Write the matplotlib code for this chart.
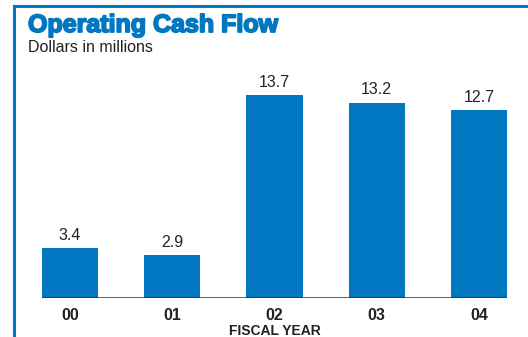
import matplotlib
matplotlib.use("Agg")
import matplotlib.pyplot as plt
from matplotlib.lines import Line2D
import matplotlib.patheffects as pe

years = ["00", "01", "02", "03", "04"]
cash_flow = [3.4, 2.9, 13.7, 13.2, 12.7]

BLUE = "#0077c0"
plt.rcParams["font.family"] = ["Liberation Sans", "DejaVu Sans"]

W, H = 528, 337
fig = plt.figure(figsize=(W / 100, H / 100), dpi=100)

# plot area in pixel terms: x 42..507, baseline at y=298
left, right, base, top = 42, 507, 298, 70
ax = fig.add_axes([left / W, 1 - base / H, (right - left) / W, (base - top) / H])

x = range(len(years))
bars = ax.bar(x, cash_flow, width=0.55, color=BLUE, zorder=2)
for b, v in zip(bars, cash_flow):
    ax.text(b.get_x() + b.get_width() / 2, v + 0.35, f"{v:.1f}",
            ha="center", va="bottom", fontsize=11.5, color="#222222")

ax.set_xlim(-0.275, 4.275)
ax.set_ylim(0, 228 / 14.8)
ax.axhline(0, color="#333333", linewidth=1.8, zorder=3)
for s in ax.spines.values():
    s.set_visible(False)
ax.set_yticks([])
ax.set_xticks(list(x))
ax.set_xticklabels(years, fontsize=11.5, fontweight="bold", color="#222222")
ax.tick_params(axis="x", length=0, pad=7)
ax.set_xlabel("FISCAL YEAR", fontsize=10, fontweight="bold", color="#222222", labelpad=1)

# open frame: left and top rules
fig.add_artist(Line2D([14 / W, 14 / W], [0, 1 - 6 / H], color=BLUE, linewidth=2.2,
                      transform=fig.transFigure))
fig.add_artist(Line2D([14 / W, 1], [1 - 6 / H, 1 - 6 / H], color=BLUE, linewidth=2.2,
                      transform=fig.transFigure))

title = fig.text(28 / W, 1 - 25 / H, "Operating Cash Flow", fontsize=18, fontweight="bold",
                 color=BLUE, va="center")
title.set_path_effects([pe.withStroke(linewidth=1.3, foreground=BLUE)])
fig.text(28 / W, 1 - 48 / H, "Dollars in millions", fontsize=11.5, color="#222222", va="center")

fig.savefig("out.png", dpi=100)
